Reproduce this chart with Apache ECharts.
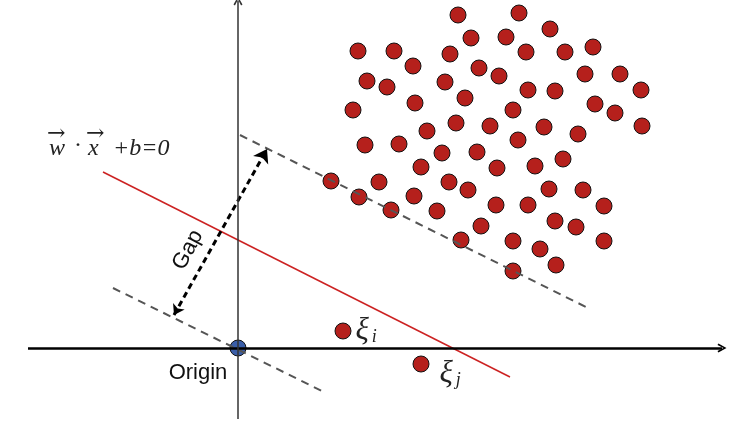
<!DOCTYPE html>
<html>
<head>
<meta charset="utf-8">
<script src="https://cdn.jsdelivr.net/npm/echarts@6/dist/echarts.min.js"></script>
<style>
  html, body { margin: 0; padding: 0; background: #fff; }
  #chart { width: 753px; height: 436px; }
</style>
</head>
<body>
<div id="chart"></div>
<script>
// coordinates are measured from the origin of the drawing (x right, y up)
const redPoints = [
  [220, 333], [281, 335], [312, 319], [233, 310], [268, 311],
  [120, 297], [156, 297], [212, 294], [288, 296], [327, 296], [355, 301],
  [175, 282], [241, 280], [261, 272], [347, 274], [382, 274],
  [129, 267], [149, 261], [207, 266], [290, 258], [317, 257], [403, 258],
  [115, 238], [177, 245], [227, 250], [275, 238], [357, 244], [377, 235],
  [189, 217], [218, 225], [252, 222], [306, 221], [340, 214], [404, 222],
  [127, 203], [161, 204], [280, 208], [204, 195], [239, 196],
  [183, 181], [259, 180], [297, 182], [325, 189],
  [93, 167], [141, 166], [211, 166], [230, 158], [311, 159], [345, 158],
  [121, 151], [176, 152], [153, 138], [199, 137], [258, 143], [290, 143], [366, 142],
  [317, 127], [338, 121], [243, 122], [223, 108], [275, 107], [302, 99], [366, 107],
  [318, 83], [275, 77]
]
const slackPoints = [[105, 17], [183, -16]]
const slackNames = ['i', 'j']
const originPoint = [[0, 0]]

const hyperplane = [[-135, 176], [272, -29]]
const upperMargin = [[2, 213], [348, 41]]
const lowerMargin = [[-125, 60], [86, -44]]
const gapArrow = [[-64, 33], [29, 199]]
const xAxisLine = [[-210, 0], [484, 0]]
const yAxisLine = [[0, -71], [0, 347]]

const chevron = 'path://M5,0 L10,9 L8.4,10 L5,3.4 L1.6,10 L0,9 Z'

const chart = echarts.init(document.getElementById('chart'))

const option = {
  animation: false,
  grid: { left: 0, right: 0, top: 0, bottom: 0 },
  xAxis: { type: 'value', min: -238, max: 515, show: false },
  yAxis: { type: 'value', min: -88, max: 348, show: false },
  graphic: [
    { type: 'text', x: 49, y: 161, style: { text: 'w', font: 'italic 24px "Liberation Serif"', fill: '#222', textVerticalAlign: 'bottom' } },
    { type: 'text', x: 74, y: 158, style: { text: '·', font: '24px "Liberation Serif"', fill: '#222', textVerticalAlign: 'bottom' } },
    { type: 'text', x: 88, y: 161, style: { text: 'x', font: 'italic 24px "Liberation Serif"', fill: '#222', textVerticalAlign: 'bottom' } },
    { type: 'text', x: 113, y: 161, style: { text: '+b=0', font: 'italic 24px "Liberation Serif"', fill: '#222', textVerticalAlign: 'bottom' } },
    { type: 'text', x: 47, y: 145, style: { text: '→', font: '22px "DejaVu Serif"', fill: '#222', textVerticalAlign: 'bottom' } },
    { type: 'text', x: 86, y: 145, style: { text: '→', font: '22px "DejaVu Serif"', fill: '#222', textVerticalAlign: 'bottom' } },
    {
      type: 'text', x: 188, y: 250, rotation: 62 * Math.PI / 180,
      style: { text: 'Gap', font: '22px "Liberation Sans"', fill: '#111', textAlign: 'center', textVerticalAlign: 'middle' }
    },
    { type: 'text', x: 198, y: 373, style: { text: 'Origin', font: '22px "Liberation Sans"', fill: '#111', textAlign: 'center', textVerticalAlign: 'middle' } }
  ],
  series: [
    {
      type: 'scatter',
      data: redPoints,
      symbolSize: 16,
      itemStyle: { color: '#b5201c', borderColor: '#111', borderWidth: 1, opacity: 1 },
      z: 2
    },
    {
      type: 'scatter',
      data: slackPoints.map((p, i) => ({
        value: p,
        label: { offset: i === 1 ? [6, 10] : [0, 0] }
      })),
      symbolSize: 16,
      itemStyle: { color: '#b5201c', borderColor: '#111', borderWidth: 1, opacity: 1 },
      label: {
        show: true,
        position: 'right',
        distance: 4,
        formatter: p => '{a|ξ}{b|' + slackNames[p.dataIndex] + '}',
        rich: {
          a: { fontStyle: 'italic', fontSize: 31, fontFamily: 'Liberation Serif', color: '#222' },
          b: { fontStyle: 'italic', fontSize: 18, fontFamily: 'Liberation Serif', color: '#222', padding: [12, 0, 0, 3] }
        }
      },
      z: 2
    },
    {
      type: 'scatter',
      data: originPoint,
      symbolSize: 16,
      itemStyle: { color: '#3a5ea8', borderColor: '#111', borderWidth: 1, opacity: 1 },
      z: 2
    },
    {
      type: 'lines',
      coordinateSystem: 'cartesian2d',
      data: [{ coords: hyperplane }],
      symbol: 'none',
      lineStyle: { color: '#cc2222', width: 1.5, opacity: 1 },
      z: 3
    },
    {
      type: 'lines',
      coordinateSystem: 'cartesian2d',
      data: [{ coords: upperMargin }, { coords: lowerMargin }],
      symbol: 'none',
      lineStyle: { color: '#555', width: 2, type: [8, 6], opacity: 1 },
      z: 4
    },
    {
      type: 'lines',
      coordinateSystem: 'cartesian2d',
      data: [{ coords: gapArrow }],
      symbol: ['arrow', 'arrow'],
      symbolSize: [10, 13],
      lineStyle: { color: '#000', width: 3, type: [6, 4], opacity: 1 },
      z: 4
    },
    {
      type: 'lines',
      coordinateSystem: 'cartesian2d',
      data: [{ coords: xAxisLine }],
      symbol: ['none', chevron],
      symbolSize: [10, 9],
      lineStyle: { color: '#000', width: 2.5, opacity: 1 },
      z: 5
    },
    {
      type: 'lines',
      coordinateSystem: 'cartesian2d',
      data: [{ coords: yAxisLine }],
      symbol: ['none', chevron],
      symbolSize: [10, 9],
      lineStyle: { color: '#333', width: 1.5, opacity: 1 },
      z: 5
    }
  ]
}

chart.setOption(option)
</script>
</body>
</html>
